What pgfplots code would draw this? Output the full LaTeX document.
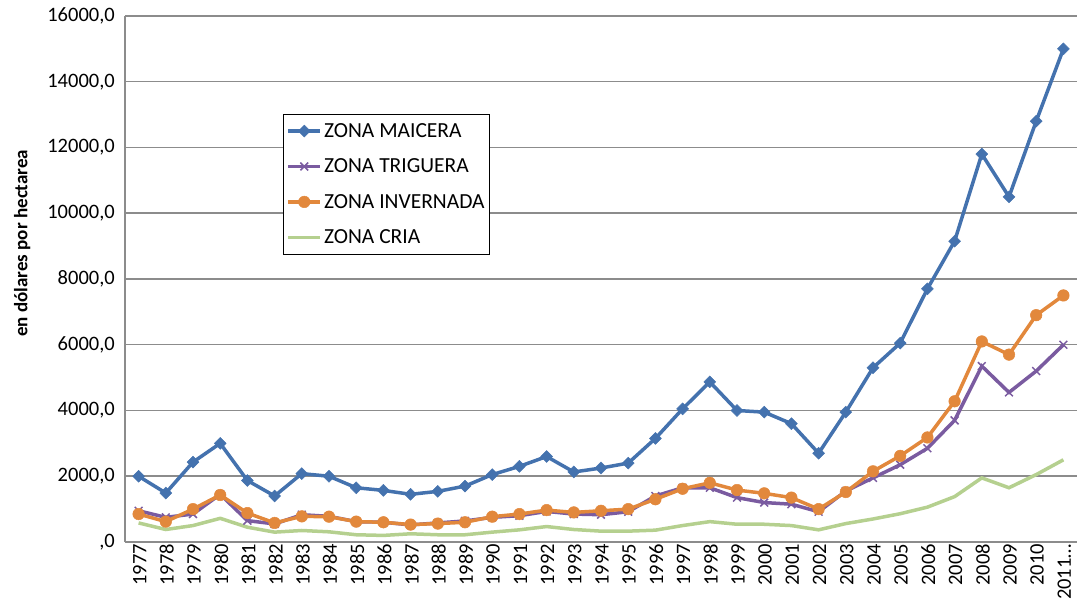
\documentclass[border=0pt]{standalone}
\usepackage{pgfplots}
\pgfplotsset{compat=1.18}
\usepackage{pgfplotstable}
\usepackage{fontspec}
\setmainfont{Carlito}
\definecolor{cblue}{HTML}{4472AE}
\definecolor{cpurple}{HTML}{7A5BA0}
\definecolor{corange}{HTML}{E2883C}
\definecolor{cgreen}{HTML}{B5D08F}
\definecolor{cgrid}{HTML}{8C8C8C}
\pgfplotstableread{
year maicera triguera invernada cria
1977 2000 950 850 580
1978 1490 750 620 380
1979 2430 850 1000 500
1980 3000 1450 1430 720
1981 1870 650 880 450
1982 1400 550 580 300
1983 2080 830 780 350
1984 2000 780 770 310
1985 1650 620 620 220
1986 1570 600 600 200
1987 1450 520 530 250
1988 1540 580 560 220
1989 1700 640 600 220
1990 2050 750 770 300
1991 2300 800 850 370
1992 2600 930 970 470
1993 2130 850 900 380
1994 2250 830 950 330
1995 2400 920 1000 330
1996 3150 1400 1300 360
1997 4050 1650 1620 500
1998 4870 1650 1800 620
1999 4000 1350 1580 540
2000 3950 1200 1480 540
2001 3600 1150 1350 500
2002 2700 920 1000 370
2003 3950 1550 1520 560
2004 5300 1950 2150 700
2005 6050 2350 2620 860
2006 7700 2850 3180 1060
2007 9150 3700 4280 1380
2008 11800 5350 6100 1950
2009 10500 4550 5700 1650
2010 12800 5200 6900 2050
2011 15000 6000 7500 2500
}\datatable
\begin{document}
\begin{tikzpicture}
\path[use as bounding box] (0,0) rectangle (1079bp,600bp);
\begin{axis}[
  at={(125bp,58bp)}, anchor=south west,
  scale only axis, width=952bp, height=526bp,
  xmin=1976.5, xmax=2011.5, ymin=0, ymax=16000,
  scaled x ticks=false, scaled y ticks=false,
  axis lines*=left,
  axis line style={cgrid, line width=1.5bp},
  major tick length=0pt,
  ymajorgrids, grid style={cgrid, line width=1.5bp},
  xtick={1977,...,2011},
  xticklabels={1977,1978,1979,1980,1981,1982,1983,1984,1985,1986,1987,1988,1989,1990,1991,1992,1993,1994,1995,1996,1997,1998,1999,2000,2001,2002,2003,2004,2005,2006,2007,2008,2009,2010,{2011\ldots}},
  ytick={0,2000,...,16000},
  yticklabels={{,0},{2000,0},{4000,0},{6000,0},{8000,0},{10000,0},{12000,0},{14000,0},{16000,0}},
  tick label style={font=\fontsize{20.5bp}{24bp}\selectfont},
  xticklabel style={rotate=90, anchor=east, inner sep=2bp, yshift=-1bp},
  yticklabel style={inner sep=2bp, xshift=-8bp},
  ylabel={en dólares por hectarea},
  ylabel style={font=\fontsize{19bp}{22bp}\selectfont\bfseries, at={(axis description cs:-0.108,0.568)}, anchor=center},
  legend style={at={(axis description cs:0.166,0.814)}, anchor=north west, draw=black, line width=1bp,
    font=\fontsize{21.5bp}{24bp}\selectfont, row sep=16bp, inner xsep=3bp, inner ysep=7bp},
  legend cell align=left,
  legend image code/.code={\draw[mark repeat=2, mark phase=2] plot coordinates {(0bp,0bp) (16bp,0bp) (32bp,0bp)};},
  clip=false,
]
\addplot[cblue, line width=3.5bp, mark=square*, mark size=4.2bp, mark options={rotate=45, line width=0.5bp}] table[x=year, y=maicera] {\datatable};
\addlegendentry{ZONA MAICERA}
\addplot[cpurple, line width=3.5bp, mark=x, mark size=5.5bp, mark options={line width=1.5bp}] table[x=year, y=triguera] {\datatable};
\addlegendentry{ZONA TRIGUERA}
\addplot[corange, line width=3.5bp, mark=*, mark size=5.8bp, mark options={line width=0.5bp}] table[x=year, y=invernada] {\datatable};
\addlegendentry{ZONA INVERNADA}
\addplot[cgreen, line width=3.5bp] table[x=year, y=cria] {\datatable};
\addlegendentry{ZONA CRIA}
\end{axis}
\end{tikzpicture}
\end{document}
